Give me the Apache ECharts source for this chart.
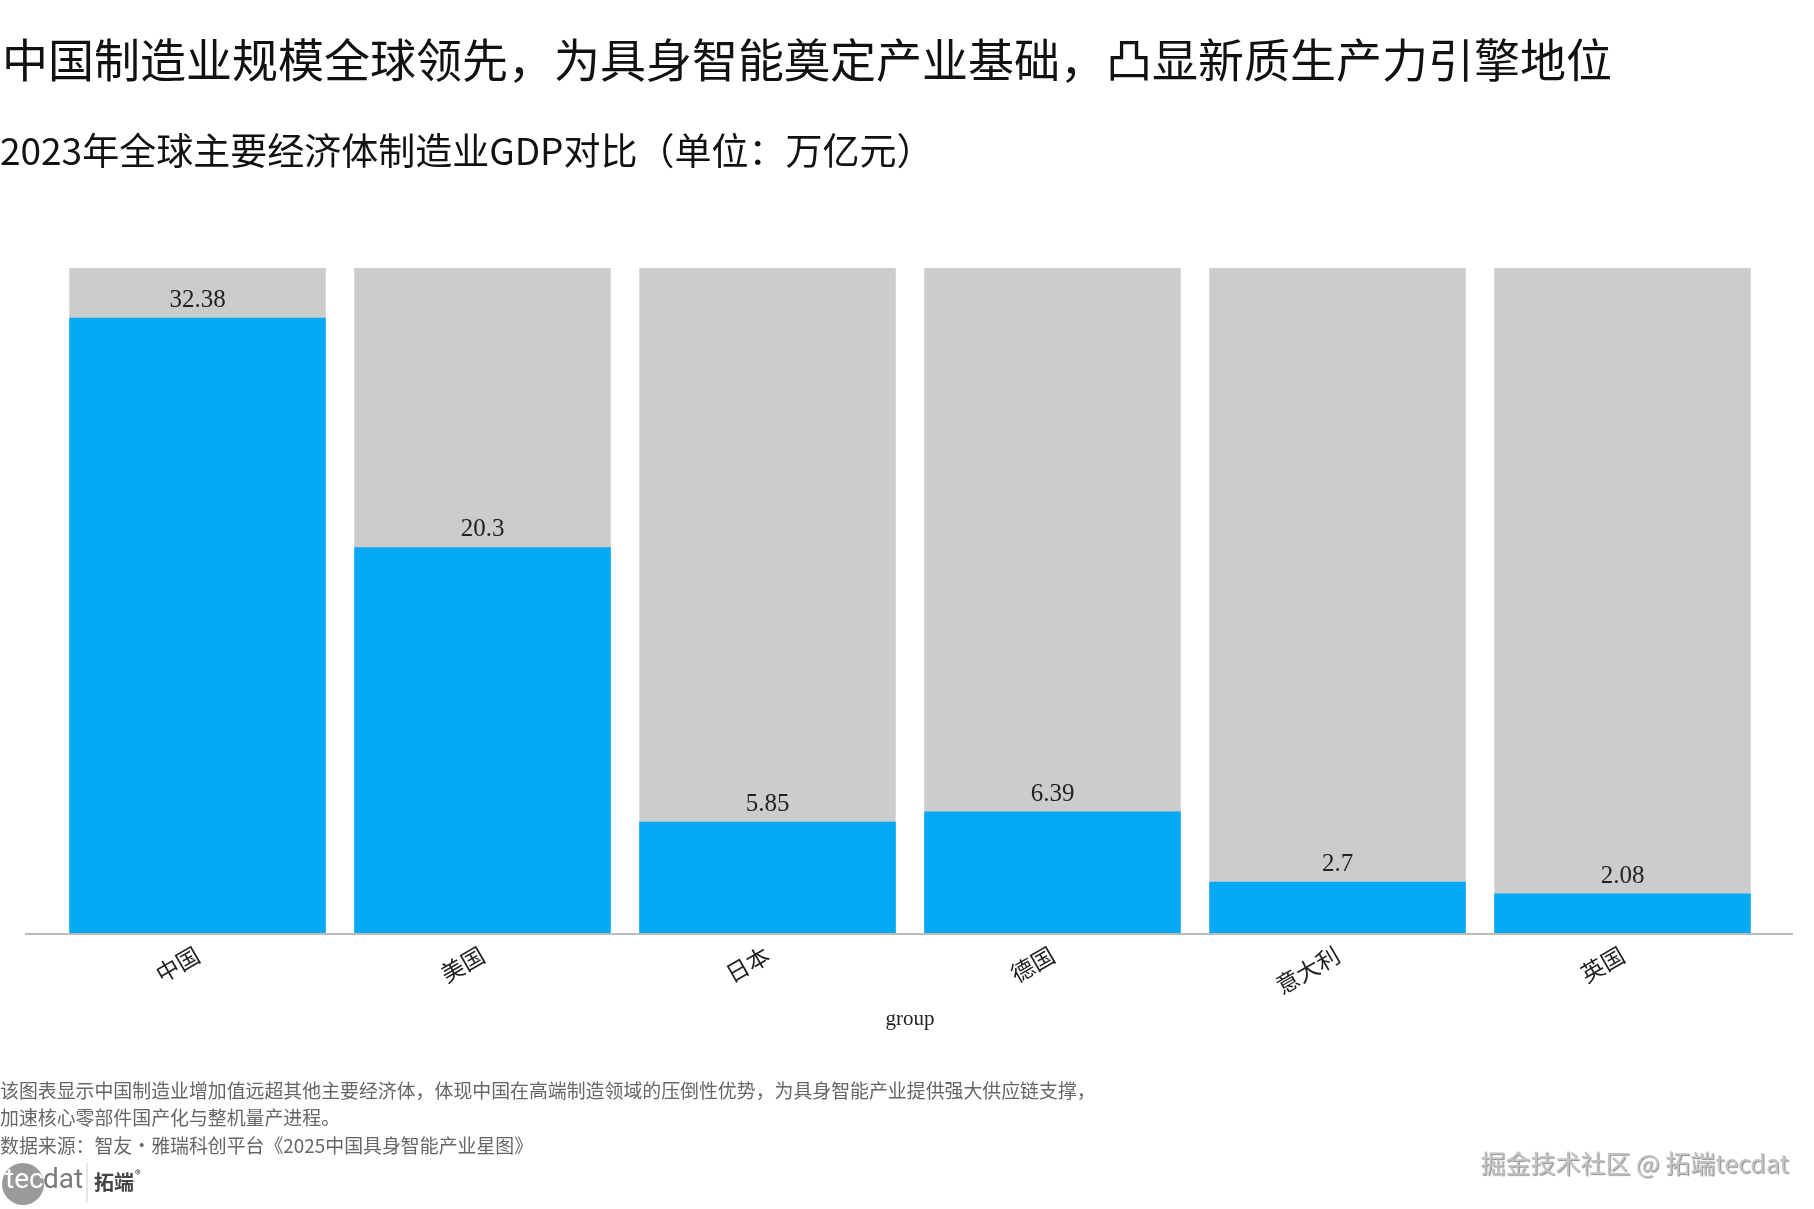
<!DOCTYPE html>
<html>
<head>
<meta charset="utf-8">
<script src="https://cdn.jsdelivr.net/npm/echarts@6/dist/echarts.min.js"></script>
<style>
html,body{margin:0;padding:0;background:#fff;}
#main{width:1814px;height:1209px;}
</style>
</head>
<body>
<div id="main"></div>
<script>
const categories = ['中国', '美国', '日本', '德国', '意大利', '英国'];
const gdpValues = [32.38, 20.3, 5.85, 6.39, 2.7, 2.08];
const yMax = 35;

const titleText = '中国制造业规模全球领先，为具身智能奠定产业基础，凸显新质生产力引擎地位';
const subtitleText = '2023年全球主要经济体制造业GDP对比（单位：万亿元）';
const noteLines = [
  '该图表显示中国制造业增加值远超其他主要经济体，体现中国在高端制造领域的压倒性优势，为具身智能产业提供强大供应链支撑，',
  '加速核心零部件国产化与整机量产进程。',
  '数据来源：智友·雅瑞科创平台《2025中国具身智能产业星图》'
];
const watermark = '掘金技术社区 @ 拓端tecdat';

const serif = '"Liberation Serif", "DejaVu Serif", "Noto Sans CJK SC", serif';
const cjk = '"Noto Sans CJK SC", "Noto Sans", sans-serif';

const chart = echarts.init(document.getElementById('main'));
chart.setOption({
  backgroundColor: '#ffffff',
  animation: false,
  title: [
    { text: titleText, left: 2, top: 37, padding: 0,
      textStyle: { fontFamily: cjk, fontSize: 46, fontWeight: 'normal', color: '#111' } },
    { text: subtitleText, left: 0, top: 132, padding: 0,
      textStyle: { fontFamily: cjk, fontSize: 37, fontWeight: 'normal', color: '#111' } }
  ],
  grid: { left: 55, right: 49, top: 268, bottom: 276, containLabel: false },
  xAxis: {
    type: 'category',
    data: categories,
    boundaryGap: true,
    axisLine: { show: false },
    axisTick: { show: false },
    axisLabel: { rotate: 30, margin: 20, fontFamily: cjk, fontSize: 23, color: '#222', interval: 0 },
    name: 'group',
    nameLocation: 'middle',
    nameGap: 76,
    nameTextStyle: { fontFamily: serif, fontSize: 21, color: '#222' }
  },
  yAxis: {
    type: 'value', min: 0, max: yMax, show: false,
    splitLine: { show: false }
  },
  series: [{
    type: 'bar',
    data: gdpValues,
    barCategoryGap: '10%',
    showBackground: true,
    backgroundStyle: { color: '#cccccc' },
    itemStyle: { color: '#03A9F4' },
    label: {
      show: true, position: 'top', distance: 5,
      fontFamily: serif, fontSize: 25, color: '#222'
    }
  }],
  graphic: [
    { type: 'line', z: 1, shape: { x1: 25, y1: 934, x2: 1793, y2: 934 },
      style: { stroke: '#bbbbbb', lineWidth: 2 } },
    { type: 'text', left: 0, top: 1077,
      style: { text: noteLines.join('\n'), fontFamily: cjk, fontSize: 18.9, lineHeight: 27.5, fill: '#666' } },
    { type: 'text', right: 25, top: 1151,
      style: { text: watermark, fontFamily: cjk, fontSize: 25, fill: '#c4c4c4',
        textShadowColor: 'rgba(0,0,0,0.45)', textShadowOffsetX: 1, textShadowOffsetY: 1, textShadowBlur: 1 } },
    { type: 'circle', shape: { cx: 23, cy: 1184, r: 21 }, style: { fill: '#9a9a9a' } },
    { type: 'text', left: 5, top: 1167,
      style: { text: 'tec', fontFamily: 'Roboto, sans-serif', fontSize: 28, fill: '#ffffff' } },
    { type: 'text', left: 43, top: 1167,
      style: { text: 'dat', fontFamily: 'Roboto, sans-serif', fontSize: 28, fill: '#7a7a7a' } },
    { type: 'line', shape: { x1: 87, y1: 1163, x2: 87, y2: 1203 }, style: { stroke: '#cccccc', lineWidth: 1 } },
    { type: 'text', left: 94, top: 1172,
      style: { text: '拓端', fontFamily: cjk, fontSize: 20, fontWeight: 'bold', fill: '#444' } },
    { type: 'text', left: 135, top: 1168,
      style: { text: '®', fontFamily: cjk, fontSize: 12, fill: '#444' } }
  ]
});
</script>
</body>
</html>
